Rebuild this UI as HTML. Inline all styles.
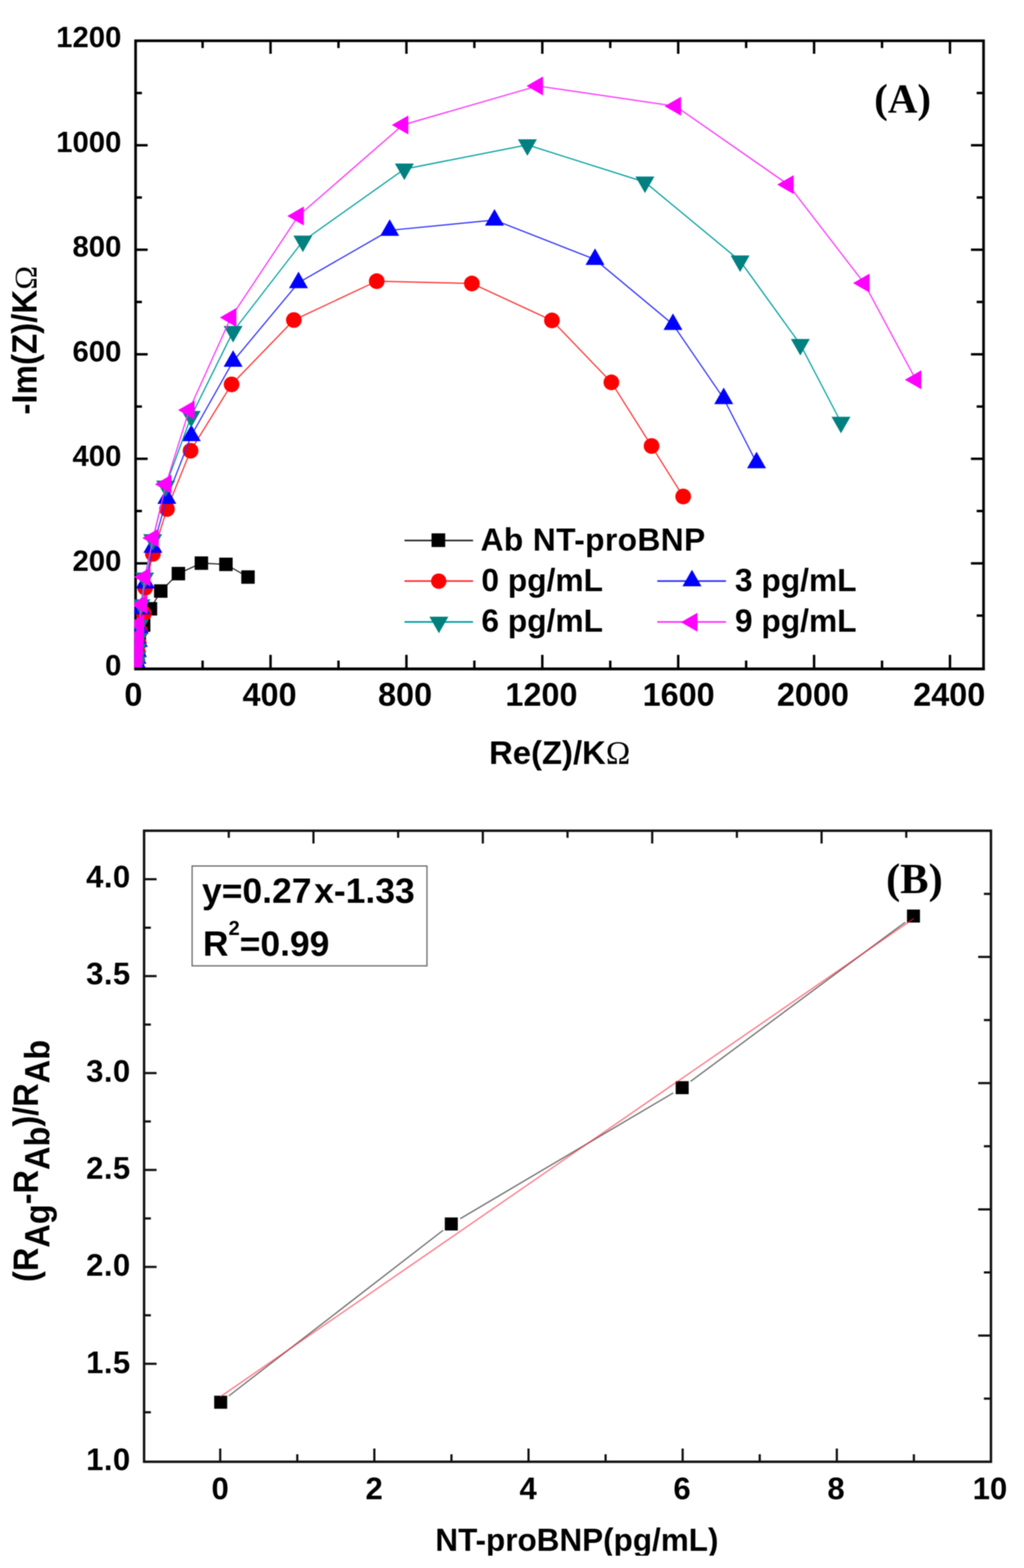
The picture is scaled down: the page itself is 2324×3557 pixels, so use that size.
<!DOCTYPE html>
<html lang="en"><head><meta charset="utf-8"><title>EIS Nyquist plots and calibration curve</title>
<style>
html,body{margin:0;padding:0;background:#fff;}
body{width:2324px;height:3557px;overflow:hidden;}
svg{display:block;filter:blur(0.9px);}
text{font-family:"Liberation Sans", Arial, Helvetica, sans-serif;font-weight:bold;fill:#000;}
.serif{font-family:"Liberation Serif", "Times New Roman", serif;font-weight:bold;}
.sym{font-family:"Liberation Serif", "Times New Roman", serif;font-weight:normal;}
</style></head><body>
<svg width="2324" height="3557" viewBox="0 0 2324 3557">
<rect x="0" y="0" width="2324" height="3557" fill="#fff"/>
<defs>
<clipPath id="clipA"><rect x="304.7" y="92.5" width="1927.5" height="1421.9"/></clipPath>
<clipPath id="clipXB"><rect x="0" y="3300" width="2324" height="229"/></clipPath>
</defs>
<g id="plotA">
<rect x="307.7" y="92.5" width="1924.4999999999998" height="1424.9" fill="none" stroke="#000" stroke-width="6.0"/>
<path d="M459.8 1517.4V1498.5 M459.8 92.5V108.9 M614.0 1517.4V1485.5 M614.0 92.5V121.9 M768.2 1517.4V1498.5 M768.2 92.5V108.9 M922.4 1517.4V1485.5 M922.4 92.5V121.9 M1076.6 1517.4V1498.5 M1076.6 92.5V108.9 M1230.8 1517.4V1485.5 M1230.8 92.5V121.9 M1385.0 1517.4V1498.5 M1385.0 92.5V108.9 M1539.2 1517.4V1485.5 M1539.2 92.5V121.9 M1693.4 1517.4V1498.5 M1693.4 92.5V108.9 M1847.6 1517.4V1485.5 M1847.6 92.5V121.9 M2001.8 1517.4V1498.5 M2001.8 92.5V108.9 M2156.0 1517.4V1485.5 M2156.0 92.5V121.9 M307.7 1396.5H322.1 M2232.2 1396.5H2216.6 M307.7 1277.9H335.1 M2232.2 1277.9H2203.6 M307.7 1159.3H322.1 M2232.2 1159.3H2216.6 M307.7 1040.8H335.1 M2232.2 1040.8H2203.6 M307.7 922.2H322.1 M2232.2 922.2H2216.6 M307.7 803.7H335.1 M2232.2 803.7H2203.6 M307.7 685.1H322.1 M2232.2 685.1H2216.6 M307.7 566.6H335.1 M2232.2 566.6H2203.6 M307.7 448.0H322.1 M2232.2 448.0H2216.6 M307.7 329.5H335.1 M2232.2 329.5H2203.6 M307.7 211.0H322.1 M2232.2 211.0H2216.6" stroke="#000" stroke-width="5.5" fill="none"/>
<text x="275.5" y="1532.3" font-size="66.5" text-anchor="end">0</text>
<text x="275.5" y="1294.8" font-size="66.5" text-anchor="end">200</text>
<text x="275.5" y="1057.2" font-size="66.5" text-anchor="end">400</text>
<text x="275.5" y="819.6" font-size="66.5" text-anchor="end">600</text>
<text x="275.5" y="582.1" font-size="66.5" text-anchor="end">800</text>
<text x="275.5" y="344.5" font-size="66.5" text-anchor="end">1000</text>
<text x="275.5" y="107.0" font-size="66.5" text-anchor="end">1200</text>
<text x="302.6" y="1601" font-size="73.5" text-anchor="middle">0</text>
<text x="611.7" y="1601" font-size="73.5" text-anchor="middle">400</text>
<text x="919.3" y="1601" font-size="73.5" text-anchor="middle">800</text>
<text x="1228.8" y="1601" font-size="73.5" text-anchor="middle">1200</text>
<text x="1540.2" y="1601" font-size="73.5" text-anchor="middle">1600</text>
<text x="1844.9" y="1601" font-size="73.5" text-anchor="middle">2000</text>
<text x="2154.3" y="1601" font-size="73.5" text-anchor="middle">2400</text>
<text transform="translate(83.3 940.5) rotate(-90) scale(1 1.07)" font-size="75">-Im(Z)/K</text>
<text class="sym" transform="translate(83.3 657.0) rotate(-90)" font-size="72.5">Ω</text>
<text x="1270.2" y="1732.9" font-size="74.5" text-anchor="middle">Re(Z)/K<tspan class="sym">Ω</tspan></text>
<text class="serif" x="2048.5" y="255.2" font-size="93" text-anchor="middle">(A)</text>
<g clip-path="url(#clipA)">
<polyline fill="none" stroke="#2a2a2a" stroke-width="2.7" stroke-linejoin="round" points="562.9,1309.1 512.8,1280.3 457.0,1277.4 404.9,1301.2 364.9,1340.8 341.5,1381.0 326.0,1418.0 316.0,1448.0 313.0,1470.0 311.0,1487.0 310.0,1499.0 309.5,1508.0"/>
<rect x="547.6" y="1293.8" width="30.5" height="30.5" fill="#000"/><rect x="497.5" y="1265.0" width="30.5" height="30.5" fill="#000"/><rect x="441.8" y="1262.2" width="30.5" height="30.5" fill="#000"/><rect x="389.6" y="1286.0" width="30.5" height="30.5" fill="#000"/><rect x="349.6" y="1325.5" width="30.5" height="30.5" fill="#000"/><rect x="326.2" y="1365.8" width="30.5" height="30.5" fill="#000"/><rect x="310.8" y="1402.8" width="30.5" height="30.5" fill="#000"/><rect x="300.8" y="1432.8" width="30.5" height="30.5" fill="#000"/><rect x="297.8" y="1454.8" width="30.5" height="30.5" fill="#000"/><rect x="295.8" y="1471.8" width="30.5" height="30.5" fill="#000"/><rect x="294.8" y="1483.8" width="30.5" height="30.5" fill="#000"/><rect x="294.2" y="1492.8" width="30.5" height="30.5" fill="#000"/>
<polyline fill="none" stroke="#ff3030" stroke-width="2.7" stroke-linejoin="round" points="1550.5,1126.3 1478.7,1011.7 1387.5,867.4 1252.6,726.9 1070.9,643.1 855.0,637.9 666.9,726.0 525.6,872.0 432.5,1022.5 379.0,1154.7 347.0,1256.5 329.6,1333.3 326.5,1392.0 318.0,1432.0 315.0,1460.0 313.0,1480.0 311.0,1495.0 310.0,1505.0 309.5,1510.0"/>
<circle cx="1550.5" cy="1126.3" r="17.8" fill="#f00"/><circle cx="1478.7" cy="1011.7" r="17.8" fill="#f00"/><circle cx="1387.5" cy="867.4" r="17.8" fill="#f00"/><circle cx="1252.6" cy="726.9" r="17.8" fill="#f00"/><circle cx="1070.9" cy="643.1" r="17.8" fill="#f00"/><circle cx="855.0" cy="637.9" r="17.8" fill="#f00"/><circle cx="666.9" cy="726.0" r="17.8" fill="#f00"/><circle cx="525.6" cy="872.0" r="17.8" fill="#f00"/><circle cx="432.5" cy="1022.5" r="17.8" fill="#f00"/><circle cx="379.0" cy="1154.7" r="17.8" fill="#f00"/><circle cx="347.0" cy="1256.5" r="17.8" fill="#f00"/><circle cx="329.6" cy="1333.3" r="17.8" fill="#f00"/><circle cx="326.5" cy="1392.0" r="17.8" fill="#f00"/><circle cx="318.0" cy="1432.0" r="17.8" fill="#f00"/><circle cx="315.0" cy="1460.0" r="17.8" fill="#f00"/><circle cx="313.0" cy="1480.0" r="17.8" fill="#f00"/><circle cx="311.0" cy="1495.0" r="17.8" fill="#f00"/><circle cx="310.0" cy="1505.0" r="17.8" fill="#f00"/><circle cx="309.5" cy="1510.0" r="17.8" fill="#f00"/>
<polyline fill="none" stroke="#3030ff" stroke-width="2.7" stroke-linejoin="round" points="1717.0,1049.7 1642.5,904.3 1527.3,735.9 1350.4,588.6 1122.2,499.2 884.4,522.5 677.4,641.3 529.0,819.6 434.1,988.2 378.7,1130.5 347.0,1241.6 330.0,1322.4 320.0,1381.0 316.0,1425.0 314.0,1455.0 312.0,1478.0 311.0,1493.0 310.0,1504.0 309.5,1510.0"/>
<polygon points="1717.0,1024.7 1695.5,1062.2 1738.5,1062.2" fill="#00f"/><polygon points="1642.5,879.3 1621.0,916.8 1664.0,916.8" fill="#00f"/><polygon points="1527.3,710.9 1505.8,748.4 1548.8,748.4" fill="#00f"/><polygon points="1350.4,563.6 1328.9,601.1 1371.9,601.1" fill="#00f"/><polygon points="1122.2,474.2 1100.7,511.7 1143.7,511.7" fill="#00f"/><polygon points="884.4,497.5 862.9,535.0 905.9,535.0" fill="#00f"/><polygon points="677.4,616.3 655.9,653.8 698.9,653.8" fill="#00f"/><polygon points="529.0,794.6 507.5,832.1 550.5,832.1" fill="#00f"/><polygon points="434.1,963.2 412.6,1000.7 455.6,1000.7" fill="#00f"/><polygon points="378.7,1105.5 357.2,1143.0 400.2,1143.0" fill="#00f"/><polygon points="347.0,1216.6 325.5,1254.1 368.5,1254.1" fill="#00f"/><polygon points="330.0,1297.4 308.5,1334.9 351.5,1334.9" fill="#00f"/><polygon points="320.0,1356.0 298.5,1393.5 341.5,1393.5" fill="#00f"/><polygon points="316.0,1400.0 294.5,1437.5 337.5,1437.5" fill="#00f"/><polygon points="314.0,1430.0 292.5,1467.5 335.5,1467.5" fill="#00f"/><polygon points="312.0,1453.0 290.5,1490.5 333.5,1490.5" fill="#00f"/><polygon points="311.0,1468.0 289.5,1505.5 332.5,1505.5" fill="#00f"/><polygon points="310.0,1479.0 288.5,1516.5 331.5,1516.5" fill="#00f"/><polygon points="309.5,1485.0 288.0,1522.5 331.0,1522.5" fill="#00f"/>
<polyline fill="none" stroke="#00a0a0" stroke-width="2.7" stroke-linejoin="round" points="1908.6,958.0 1816.4,781.4 1679.7,591.9 1463.7,413.1 1196.9,328.6 917.7,383.6 687.4,547.0 529.0,752.0 433.8,944.7 376.0,1102.8 346.6,1224.2 328.2,1311.2 320.0,1372.0 316.0,1418.0 314.0,1448.0 312.0,1472.0 311.0,1489.0 310.0,1501.0 309.5,1509.0"/>
<polygon points="1908.6,983.0 1887.1,945.5 1930.1,945.5" fill="#008080"/><polygon points="1816.4,806.4 1794.9,768.9 1837.9,768.9" fill="#008080"/><polygon points="1679.7,616.9 1658.2,579.4 1701.2,579.4" fill="#008080"/><polygon points="1463.7,438.1 1442.2,400.6 1485.2,400.6" fill="#008080"/><polygon points="1196.9,353.6 1175.4,316.1 1218.4,316.1" fill="#008080"/><polygon points="917.7,408.6 896.2,371.1 939.2,371.1" fill="#008080"/><polygon points="687.4,572.0 665.9,534.5 708.9,534.5" fill="#008080"/><polygon points="529.0,777.0 507.5,739.5 550.5,739.5" fill="#008080"/><polygon points="433.8,969.7 412.3,932.2 455.3,932.2" fill="#008080"/><polygon points="376.0,1127.8 354.5,1090.3 397.5,1090.3" fill="#008080"/><polygon points="346.6,1249.2 325.1,1211.7 368.1,1211.7" fill="#008080"/><polygon points="328.2,1336.2 306.7,1298.7 349.7,1298.7" fill="#008080"/><polygon points="320.0,1397.0 298.5,1359.5 341.5,1359.5" fill="#008080"/><polygon points="316.0,1443.0 294.5,1405.5 337.5,1405.5" fill="#008080"/><polygon points="314.0,1473.0 292.5,1435.5 335.5,1435.5" fill="#008080"/><polygon points="312.0,1497.0 290.5,1459.5 333.5,1459.5" fill="#008080"/><polygon points="311.0,1514.0 289.5,1476.5 332.5,1476.5" fill="#008080"/><polygon points="310.0,1526.0 288.5,1488.5 331.5,1488.5" fill="#008080"/><polygon points="309.5,1534.0 288.0,1496.5 331.0,1496.5" fill="#008080"/>
<polyline fill="none" stroke="#ff30ff" stroke-width="2.7" stroke-linejoin="round" points="2078.5,861.4 1961.0,642.2 1788.8,418.8 1533.2,240.9 1220.0,195.0 914.2,283.4 677.0,490.1 524.0,720.3 429.2,930.3 376.7,1098.6 347.9,1220.6 329.0,1309.0 321.8,1371.3 315.0,1415.0 313.5,1443.0 312.0,1465.0 311.0,1482.0 310.0,1495.0 309.5,1504.0 309.0,1510.0"/>
<polygon points="2053.5,861.4 2091.0,839.9 2091.0,882.9" fill="#f0f"/><polygon points="1936.0,642.2 1973.5,620.7 1973.5,663.7" fill="#f0f"/><polygon points="1763.8,418.8 1801.3,397.3 1801.3,440.3" fill="#f0f"/><polygon points="1508.2,240.9 1545.7,219.4 1545.7,262.4" fill="#f0f"/><polygon points="1195.0,195.0 1232.5,173.5 1232.5,216.5" fill="#f0f"/><polygon points="889.2,283.4 926.7,261.9 926.7,304.9" fill="#f0f"/><polygon points="652.0,490.1 689.5,468.6 689.5,511.6" fill="#f0f"/><polygon points="499.0,720.3 536.5,698.8 536.5,741.8" fill="#f0f"/><polygon points="404.2,930.3 441.7,908.8 441.7,951.8" fill="#f0f"/><polygon points="351.7,1098.6 389.2,1077.1 389.2,1120.1" fill="#f0f"/><polygon points="322.9,1220.6 360.4,1199.1 360.4,1242.1" fill="#f0f"/><polygon points="304.0,1309.0 341.5,1287.5 341.5,1330.5" fill="#f0f"/><polygon points="296.8,1371.3 334.3,1349.8 334.3,1392.8" fill="#f0f"/><polygon points="290.0,1415.0 327.5,1393.5 327.5,1436.5" fill="#f0f"/><polygon points="288.5,1443.0 326.0,1421.5 326.0,1464.5" fill="#f0f"/><polygon points="287.0,1465.0 324.5,1443.5 324.5,1486.5" fill="#f0f"/><polygon points="286.0,1482.0 323.5,1460.5 323.5,1503.5" fill="#f0f"/><polygon points="285.0,1495.0 322.5,1473.5 322.5,1516.5" fill="#f0f"/><polygon points="284.5,1504.0 322.0,1482.5 322.0,1525.5" fill="#f0f"/><polygon points="284.0,1510.0 321.5,1488.5 321.5,1531.5" fill="#f0f"/>
</g>
<path d="M304.7 1517.4H2235.2" stroke="#000" stroke-width="6.0" fill="none"/>
<path d="M918 1226.2H1073.6" stroke="#2a2a2a" stroke-width="3.8" fill="none"/>
<rect x="979.4" y="1209.9" width="31.0" height="31.0" fill="#000"/>
<text x="1090.7" y="1248.7" font-size="72" letter-spacing="0.9">Ab NT-proBNP</text>
<path d="M918 1318.2H1073.6" stroke="#ff3030" stroke-width="3.8" fill="none"/>
<circle cx="995.7" cy="1318.4" r="17.4" fill="#f00"/>
<text x="1092.5" y="1340.6" font-size="72">0 pg/mL</text>
<path d="M918 1410.8H1073.6" stroke="#00a0a0" stroke-width="3.8" fill="none"/>
<polygon points="996.1,1436.4 974.6,1398.9 1017.6,1398.9" fill="#008080"/>
<text x="1092.5" y="1432.8" font-size="72">6 pg/mL</text>
<path d="M1491.7 1318.2H1647.6" stroke="#3030ff" stroke-width="3.8" fill="none"/>
<polygon points="1570.4,1292.6 1548.9,1330.1 1591.9,1330.1" fill="#00f"/>
<text x="1668" y="1340.6" font-size="72">3 pg/mL</text>
<path d="M1491.7 1410.8H1647.6" stroke="#ff30ff" stroke-width="3.8" fill="none"/>
<polygon points="1545.4,1411.6 1582.9,1390.1 1582.9,1433.1" fill="#f0f"/>
<text x="1668" y="1432.8" font-size="72">9 pg/mL</text>
</g>
<g id="plotB">
<rect x="327.0" y="1884.5" width="1922.0" height="1431.5" fill="none" stroke="#111" stroke-width="5.5"/>
<path d="M499.8 3316.0V3286.1 M674.7 3316.0V3299.1 M849.6 3316.0V3286.1 M1024.6 3316.0V3299.1 M1199.5 3316.0V3286.1 M1374.4 3316.0V3299.1 M1549.3 3316.0V3286.1 M1724.2 3316.0V3299.1 M1899.2 3316.0V3286.1 M2074.1 3316.0V3299.1 M327.0 3203.7H342.4 M327.0 3093.8H355.4 M327.0 2983.8H342.4 M327.0 2873.9H355.4 M327.0 2764.0H342.4 M327.0 2654.1H355.4 M327.0 2544.1H342.4 M327.0 2434.2H355.4 M327.0 2324.3H342.4 M327.0 2214.3H355.4 M327.0 2104.4H342.4 M327.0 1994.5H355.4 M519.2 1884.5v16.0 M2249.0 2027.7h-16.0 M711.4 1884.5v29.0 M2249.0 2170.8h-29.0 M903.6 1884.5v16.0 M2249.0 2313.9h-16.0 M1095.8 1884.5v29.0 M2249.0 2457.1h-29.0 M1288.0 1884.5v16.0 M2249.0 2600.2h-16.0 M1480.2 1884.5v29.0 M2249.0 2743.4h-29.0 M1672.4 1884.5v16.0 M2249.0 2886.6h-16.0 M1864.6 1884.5v29.0 M2249.0 3029.7h-29.0 M2056.8 1884.5v16.0 M2249.0 3172.8h-16.0" stroke="#111" stroke-width="5.0" fill="none"/>
<text x="296.6" y="3335.0" font-size="70.5" text-anchor="end" letter-spacing="1">1.0</text>
<text x="296.6" y="3114.7" font-size="70.5" text-anchor="end" letter-spacing="1">1.5</text>
<text x="296.6" y="2894.4" font-size="70.5" text-anchor="end" letter-spacing="1">2.0</text>
<text x="296.6" y="2674.1" font-size="70.5" text-anchor="end" letter-spacing="1">2.5</text>
<text x="296.6" y="2453.7" font-size="70.5" text-anchor="end" letter-spacing="1">3.0</text>
<text x="296.6" y="2233.4" font-size="70.5" text-anchor="end" letter-spacing="1">3.5</text>
<text x="296.6" y="2013.1" font-size="70.5" text-anchor="end" letter-spacing="1">4.0</text>
<text x="499.7" y="3400.6" font-size="70.5" text-anchor="middle">0</text>
<text x="849.1" y="3400.6" font-size="70.5" text-anchor="middle">2</text>
<text x="1198.5" y="3400.6" font-size="70.5" text-anchor="middle">4</text>
<text x="1547.9" y="3400.6" font-size="70.5" text-anchor="middle">6</text>
<text x="1897.3" y="3400.6" font-size="70.5" text-anchor="middle">8</text>
<text x="2246.7" y="3400.6" font-size="70.5" text-anchor="middle">10</text>
<text transform="translate(86.2 2633.6) rotate(-90) scale(1 1.07)" font-size="73.8" text-anchor="middle">(R<tspan dy="24.3">Ag</tspan><tspan dy="-24.3">-R</tspan><tspan dy="24.3">Ab</tspan><tspan dy="-24.3">)/R</tspan><tspan dy="24.3">Ab</tspan></text>
<g clip-path="url(#clipXB)"><text x="1309.3" y="3517.5" font-size="71.4" text-anchor="middle">NT-proBNP(pg/mL)</text></g>
<text class="serif" x="2075.2" y="2025.8" font-size="96.5" text-anchor="middle">(B)</text>
<rect x="436" y="1964.5" width="533" height="226.5" fill="#fff" stroke="#707070" stroke-width="3"/>
<text x="458.5" y="2048" font-size="80.5">y=0.27<tspan dx="6">x-1.33</tspan></text>
<text x="460.5" y="2168.4" font-size="80.5">R<tspan font-size="45.5" dy="-47.5">2</tspan><tspan dy="47.5">=0.99</tspan></text>
<path d="M519.4 3166.6L1005.7 2790.9 M1044.5 2764.6L1528.1 2479.2 M1567.2 2453.3L2054.3 2092.1" stroke="#000" stroke-opacity="0.55" stroke-width="3" fill="none"/>
<rect x="486.1" y="3166.2" width="29.5" height="29.5" fill="#000"/><rect x="1009.5" y="2761.8" width="29.5" height="29.5" fill="#000"/><rect x="1533.5" y="2452.6" width="29.5" height="29.5" fill="#000"/><rect x="2058.4" y="2063.3" width="29.5" height="29.5" fill="#000"/>
<path d="M500 3168.5L2074 2083.5" stroke="#ff2038" stroke-opacity="0.6" stroke-width="3" fill="none"/>
</g>
</svg>
</body></html>
